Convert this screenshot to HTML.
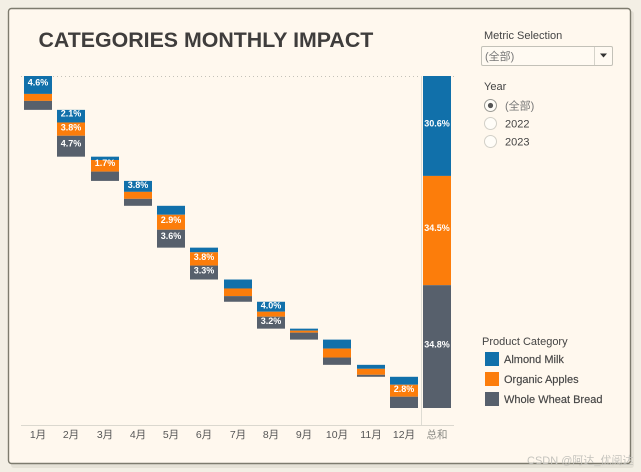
<!DOCTYPE html>
<html lang="zh">
<head>
<meta charset="utf-8">
<title>Categories Monthly Impact</title>
<style>
html,body{margin:0;padding:0;width:641px;height:472px;overflow:hidden;background:#f3efe5;}
svg{display:block;font-family:"Liberation Sans","Noto Sans CJK SC",sans-serif;}
</style>
</head>
<body>
<svg id="chart" width="641" height="472" viewBox="0 0 641 472" xmlns="http://www.w3.org/2000/svg">
  <rect x="11" y="11" width="623" height="457" rx="3" fill="#d9d5ca" opacity="0.55"/>
  <rect x="8.5" y="8.5" width="622" height="455" rx="3" fill="#fff8ee" stroke="#7d7b6e" stroke-width="1.4"/>

  <text x="38.5" y="47" font-size="21.35" font-weight="700" fill="#3f3d3c">CATEGORIES MONTHLY IMPACT</text>

  <line x1="21" y1="76.5" x2="454" y2="76.5" stroke="#c4c1b8" stroke-width="1" stroke-dasharray="1 3"/>
  <line x1="421.5" y1="76" x2="421.5" y2="425" stroke="#dedcd3" stroke-width="1"/>
  <line x1="21" y1="425.5" x2="454" y2="425.5" stroke="#dbd8cf" stroke-width="1"/>

  <g id="marks"></g>
  <g id="bar-labels"></g>
  <g id="x-ticks"></g>

  <g>
    <text x="484" y="39" font-size="11" fill="#444">Metric Selection</text>
    <g>
      <rect x="481.5" y="46.5" width="131" height="19" rx="1.5" fill="#fffaf2" stroke="#c3c1b8"/>
      <line x1="594.5" y1="47" x2="594.5" y2="65" stroke="#d5d3ca"/>
      <text x="485" y="60" font-size="11" fill="#777">(全部)</text>
      <path d="M600 53.5h7l-3.5 4z" fill="#333"/>
    </g>
  </g>

  <g>
    <text x="484" y="90" font-size="11" fill="#444">Year</text>
    <circle cx="490.5" cy="105.5" r="6" fill="#fffdf8" stroke="#9a9a94"/>
    <circle cx="490.5" cy="105.5" r="2.6" fill="#555"/>
    <text x="505" y="109.5" font-size="11" fill="#777">(全部)</text>
    <circle cx="490.5" cy="123.5" r="6" fill="#fffdf8" stroke="#d2d0c8"/>
    <text x="505" y="127.5" font-size="11" fill="#444">2022</text>
    <circle cx="490.5" cy="141.5" r="6" fill="#fffdf8" stroke="#d2d0c8"/>
    <text x="505" y="145.5" font-size="11" fill="#444">2023</text>
  </g>

  <g>
    <text x="482" y="345" font-size="11" fill="#444">Product Category</text>
    <rect x="485" y="352" width="14" height="14" fill="#1170aa"/>
    <text x="504" y="363" font-size="11" fill="#444" stroke="#444" stroke-width="0.15">Almond Milk</text>
    <rect x="485" y="372" width="14" height="14" fill="#fc7d0b"/>
    <text x="504" y="383" font-size="11" fill="#444" stroke="#444" stroke-width="0.15">Organic Apples</text>
    <rect x="485" y="392" width="14" height="14" fill="#57606c"/>
    <text x="504" y="403" font-size="11" fill="#444" stroke="#444" stroke-width="0.15">Whole Wheat Bread</text>
  </g>

  <text x="527" y="464" font-size="11" fill="#c4c3bd">CSDN @阿达_优阅达</text>
</svg>

<script>
var categories = ['1月','2月','3月','4月','5月','6月','7月','8月','9月','10月','11月','12月'];
var totalCategory = '总和';

var seriesNames = ['almond-milk','organic-apples','whole-wheat-bread'];
var seriesColors = ['#1170aa','#fc7d0b','#57606c'];

var almondValues = [5.4,3.8,1.0,3.3,2.7,1.4,2.7,3.0,0.6,2.7,1.2,2.4];
var appleValues  = [2.1,4.0,3.5,2.1,4.5,4.0,2.3,1.5,0.6,2.7,1.8,3.6];
var breadValues  = [2.7,6.3,2.8,2.1,5.4,4.2,1.7,3.6,2.1,2.2,0.6,3.4];

var almondLabels = [4.6,2.1,null,3.8,null,null,null,4.0,null,null,null,null];
var appleLabels  = [null,3.8,1.7,null,2.9,3.8,null,null,null,null,null,2.8];
var breadLabels  = [null,4.7,null,null,3.6,3.3,null,3.2,null,null,null,null];

var totalValues = [30.1,32.9,37.0];
var totalLabels = [30.6,34.5,34.8];

var yTop = 76, yBottom = 408, yMax = 100;
var bandStart = 24, bandStep = 33.25, barWidth = 28;

function yScale(v){ return yTop + (yBottom - yTop) * v / yMax; }
function xScale(i){ return Math.round(bandStart + bandStep * i); }

var NS = 'http://www.w3.org/2000/svg';
var marks = document.getElementById('marks');
var barLabels = document.getElementById('bar-labels');
var xTicks = document.getElementById('x-ticks');

function addBar(i, s, from, to){
  var r = document.createElementNS(NS, 'rect');
  r.setAttribute('x', xScale(i));
  r.setAttribute('y', yScale(from));
  r.setAttribute('width', barWidth);
  r.setAttribute('height', yScale(to) - yScale(from));
  r.setAttribute('fill', seriesColors[s]);
  
  
  marks.appendChild(r);
}

function addLabel(i, s, value, cy){
  var t = document.createElementNS(NS, 'text');
  t.setAttribute('x', xScale(i) + barWidth / 2);
  t.setAttribute('y', cy + 3.2);
  t.setAttribute('text-anchor', 'middle');
  t.setAttribute('font-size', '9');
  t.setAttribute('font-weight', '700');
  t.setAttribute('fill', '#ffffff');
  
  
  t.textContent = value.toFixed(1) + '%';
  barLabels.appendChild(t);
}

function addTick(i, text, color){
  var t = document.createElementNS(NS, 'text');
  t.setAttribute('x', xScale(i) + barWidth / 2);
  t.setAttribute('y', 438);
  t.setAttribute('text-anchor', 'middle');
  t.setAttribute('font-size', '10.5');
  t.setAttribute('fill', color);
  
  
  t.textContent = text;
  xTicks.appendChild(t);
}

var seriesValues = [almondValues, appleValues, breadValues];
var seriesLabels = [almondLabels, appleLabels, breadLabels];
var running = 0;
categories.forEach(function(cat, i){
  seriesValues.forEach(function(vals, s){
    var next = running + vals[i];
    addBar(i, s, running, next);
    var lab = seriesLabels[s][i];
    if (lab !== null) {
      var segHeight = yScale(next) - yScale(running);
      var labelHalf = (yBottom - yTop) * (lab / yMax) / 2;
      addLabel(i, s, lab, yScale(running) + Math.min(labelHalf, segHeight * 0.35));
    }
    running = next;
  });
  addTick(i, cat, '#555555');
});

var stack = 0;
totalValues.forEach(function(v, s){
  var next = stack + v;
  addBar(categories.length, s, stack, next);
  addLabel(categories.length, s, totalLabels[s], (yScale(stack) + yScale(next)) / 2 - 2.5);
  stack = next;
});
addTick(categories.length, totalCategory, '#8a8a84');
</script>
</body>
</html>
